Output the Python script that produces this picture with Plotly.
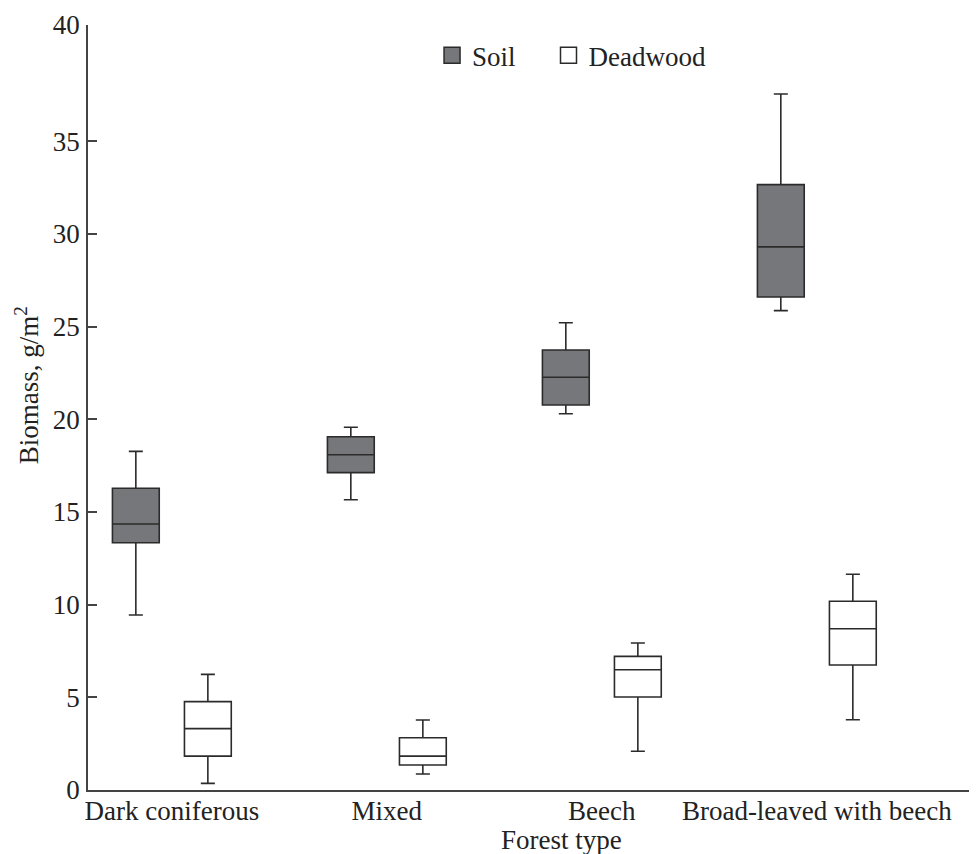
import plotly.graph_objects as go

categories = ["Dark coniferous", "Mixed", "Beech", "Broad-leaved with beech"]

soil_lower = [9.44, 15.66, 20.30, 25.86]
soil_q1 = [13.34, 17.12, 20.77, 26.60]
soil_median = [14.35, 18.09, 22.27, 29.30]
soil_q3 = [16.28, 19.06, 23.74, 32.66]
soil_upper = [18.27, 19.57, 25.21, 37.55]

dead_lower = [0.36, 0.86, 2.09, 3.79]
dead_q1 = [1.83, 1.35, 5.02, 6.74]
dead_median = [3.31, 1.83, 6.49, 8.70]
dead_q3 = [4.77, 2.82, 7.21, 10.18]
dead_upper = [6.24, 3.78, 7.93, 11.64]

y_ticks = [0, 5, 10, 15, 20, 25, 30, 35, 41.27]
y_ticktext = ["0", "5", "10", "15", "20", "25", "30", "35", "40"]

FONT = "Liberation Serif, Times New Roman, serif"
TXT = "#222222"
LINE = "#2b2b2b"
SOIL_FILL = "#76777b"
SIZE = 27

fig = go.Figure()
fig.add_trace(go.Box(
    name="Soil", x=categories,
    q1=soil_q1, median=soil_median, q3=soil_q3,
    lowerfence=soil_lower, upperfence=soil_upper,
    fillcolor=SOIL_FILL, line=dict(color=LINE, width=1.6),
    whiskerwidth=0.3, boxpoints=False, showlegend=False,
))
fig.add_trace(go.Box(
    name="Deadwood", x=categories,
    q1=dead_q1, median=dead_median, q3=dead_q3,
    lowerfence=dead_lower, upperfence=dead_upper,
    fillcolor="#ffffff", line=dict(color=LINE, width=1.6),
    whiskerwidth=0.3, boxpoints=False, showlegend=False,
))
# legend entries (square swatches), each in its own legend box
fig.add_trace(go.Scatter(
    x=[None], y=[None], mode="markers", name="Soil", legend="legend",
    marker=dict(symbol="square", size=20, color=SOIL_FILL, line=dict(color=LINE, width=1.5)),
))
fig.add_trace(go.Scatter(
    x=[None], y=[None], mode="markers", name="Deadwood", legend="legend2",
    marker=dict(symbol="square", size=20, color="#ffffff", line=dict(color=LINE, width=1.5)),
))

legend_style = dict(orientation="h", y=0.992, xanchor="left", yanchor="top",
                    font=dict(family=FONT, size=SIZE, color=TXT),
                    bgcolor="rgba(0,0,0,0)", itemwidth=30, tracegroupgap=0,
                    itemsizing="trace")

# page body has an 8px margin; compensate
fig.update_layout(
    width=969, height=846,
    margin=dict(l=80, r=0, t=17, b=64, autoexpand=False),
    paper_bgcolor="white", plot_bgcolor="white",
    boxmode="group", boxgap=0.33, boxgroupgap=0.35,
    font=dict(family=FONT, size=SIZE, color=TXT),
    legend=dict(x=0.387, **legend_style),
    legend2=dict(x=0.518, **legend_style),
    showlegend=True,
    annotations=[
        dict(text="Forest type", xref="paper", yref="paper", x=0.533, y=0,
             xanchor="center", yanchor="middle", yshift=-50, showarrow=False,
             font=dict(family=FONT, size=SIZE, color=TXT)),
        dict(text="Biomass, g/m<sup>2</sup>", xref="paper", yref="paper", x=-0.0686, y=0.529,
             xanchor="center", yanchor="middle", textangle=-90, showarrow=False,
             font=dict(family=FONT, size=SIZE, color=TXT)),
    ],
)
fig.update_xaxes(
    type="category", range=[-0.39, 3.745],
    showline=True, linecolor="#444444", linewidth=1.5,
    ticks="", showgrid=False, zeroline=False,
    ticklabelstandoff=-4,
    tickfont=dict(family=FONT, size=SIZE, color=TXT),
)
fig.update_yaxes(
    range=[0, 41.27],
    tickvals=y_ticks, ticktext=y_ticktext,
    showline=True, linecolor="#444444", linewidth=1.5,
    ticks="inside", ticklen=9, tickcolor="#444444", tickwidth=1.5,
    ticklabelstandoff=1,
    showgrid=False, zeroline=False,
    tickfont=dict(family=FONT, size=SIZE, color=TXT),
)

fig.write_html("out.html")
